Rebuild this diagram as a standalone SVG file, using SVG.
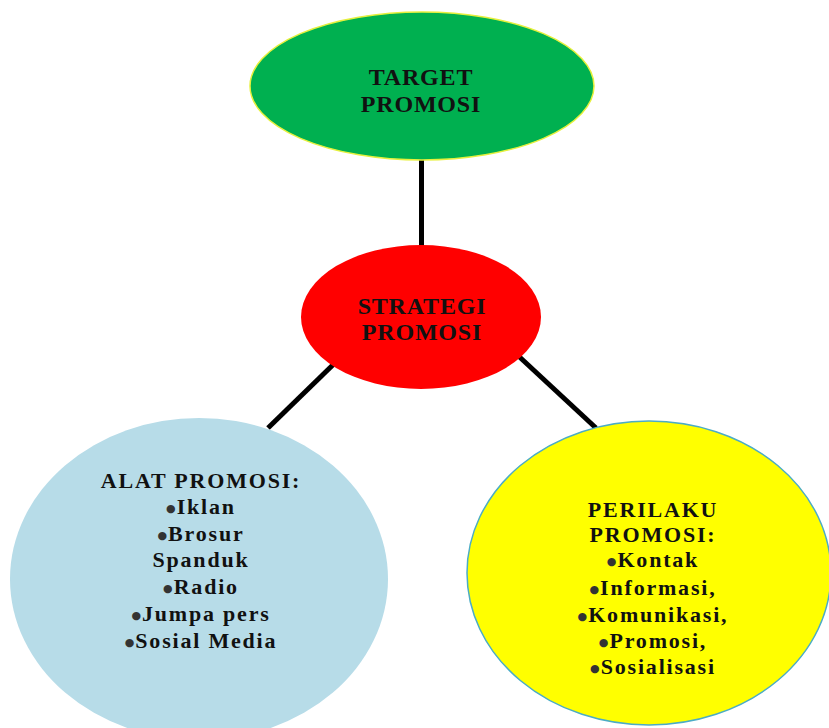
<svg xmlns="http://www.w3.org/2000/svg" width="829" height="728" viewBox="0 0 829 728">
<style>
.t{font-family:"Liberation Serif","Times New Roman",serif;font-weight:bold;fill:#111;text-anchor:middle;}
.big{font-size:24px;letter-spacing:0.8px;}
.mid{font-size:22px;letter-spacing:1.8px;}
.b{font-family:"DejaVu Sans",sans-serif;font-size:11px;letter-spacing:1px;fill:#333;}
.conn{stroke:#000;stroke-width:5;fill:none;}
</style>
<rect width="829" height="728" fill="#fff"/>
<g id="connectors">
<line class="conn" x1="421.5" y1="150" x2="421.5" y2="250"/>
<line class="conn" x1="340" y1="358" x2="268" y2="428"/>
<line class="conn" x1="512" y1="350" x2="596" y2="428"/>
</g>
<g id="target">
<ellipse cx="422" cy="86" rx="172" ry="74" fill="#00b050" stroke="#e6f03c" stroke-width="1.5"/>
<text class="t big" x="421" y="85">TARGET</text>
<text class="t big" x="421" y="112">PROMOSI</text>
</g>
<g id="strategi">
<ellipse cx="421" cy="317" rx="120" ry="72" fill="#ff0000"/>
<text class="t big" x="422" y="314">STRATEGI</text>
<text class="t big" x="422" y="340">PROMOSI</text>
</g>
<g id="alat">
<ellipse cx="199" cy="579" rx="189" ry="161" fill="#b7dce8"/>
<text class="t mid" x="201" y="488">ALAT PROMOSI:</text>
<text class="t mid" x="201" y="514"><tspan class="b" dy="-2">●</tspan><tspan dy="2">Iklan</tspan></text>
<text class="t mid" x="201" y="541"><tspan class="b" dy="-2">●</tspan><tspan dy="2">Brosur</tspan></text>
<text class="t mid" x="201" y="567">Spanduk</text>
<text class="t mid" x="201" y="594"><tspan class="b" dy="-2">●</tspan><tspan dy="2">Radio</tspan></text>
<text class="t mid" x="201" y="621"><tspan class="b" dy="-2">●</tspan><tspan dy="2">Jumpa pers</tspan></text>
<text class="t mid" x="201" y="648"><tspan class="b" dy="-2">●</tspan><tspan dy="2">Sosial Media</tspan></text>
</g>
<g id="perilaku">
<ellipse cx="649" cy="573" rx="182" ry="152" fill="#ffff00" stroke="#4bacc6" stroke-width="1.5"/>
<text class="t mid" x="653" y="517">PERILAKU</text>
<text class="t mid" x="653" y="542">PROMOSI:</text>
<text class="t mid" x="653" y="567"><tspan class="b" dy="-2">●</tspan><tspan dy="2">Kontak</tspan></text>
<text class="t mid" x="653" y="595"><tspan class="b" dy="-2">●</tspan><tspan dy="2">Informasi,</tspan></text>
<text class="t mid" x="653" y="622"><tspan class="b" dy="-2">●</tspan><tspan dy="2">Komunikasi,</tspan></text>
<text class="t mid" x="653" y="648"><tspan class="b" dy="-2">●</tspan><tspan dy="2">Promosi,</tspan></text>
<text class="t mid" x="653" y="674"><tspan class="b" dy="-2">●</tspan><tspan dy="2">Sosialisasi</tspan></text>
</g>
</svg>
